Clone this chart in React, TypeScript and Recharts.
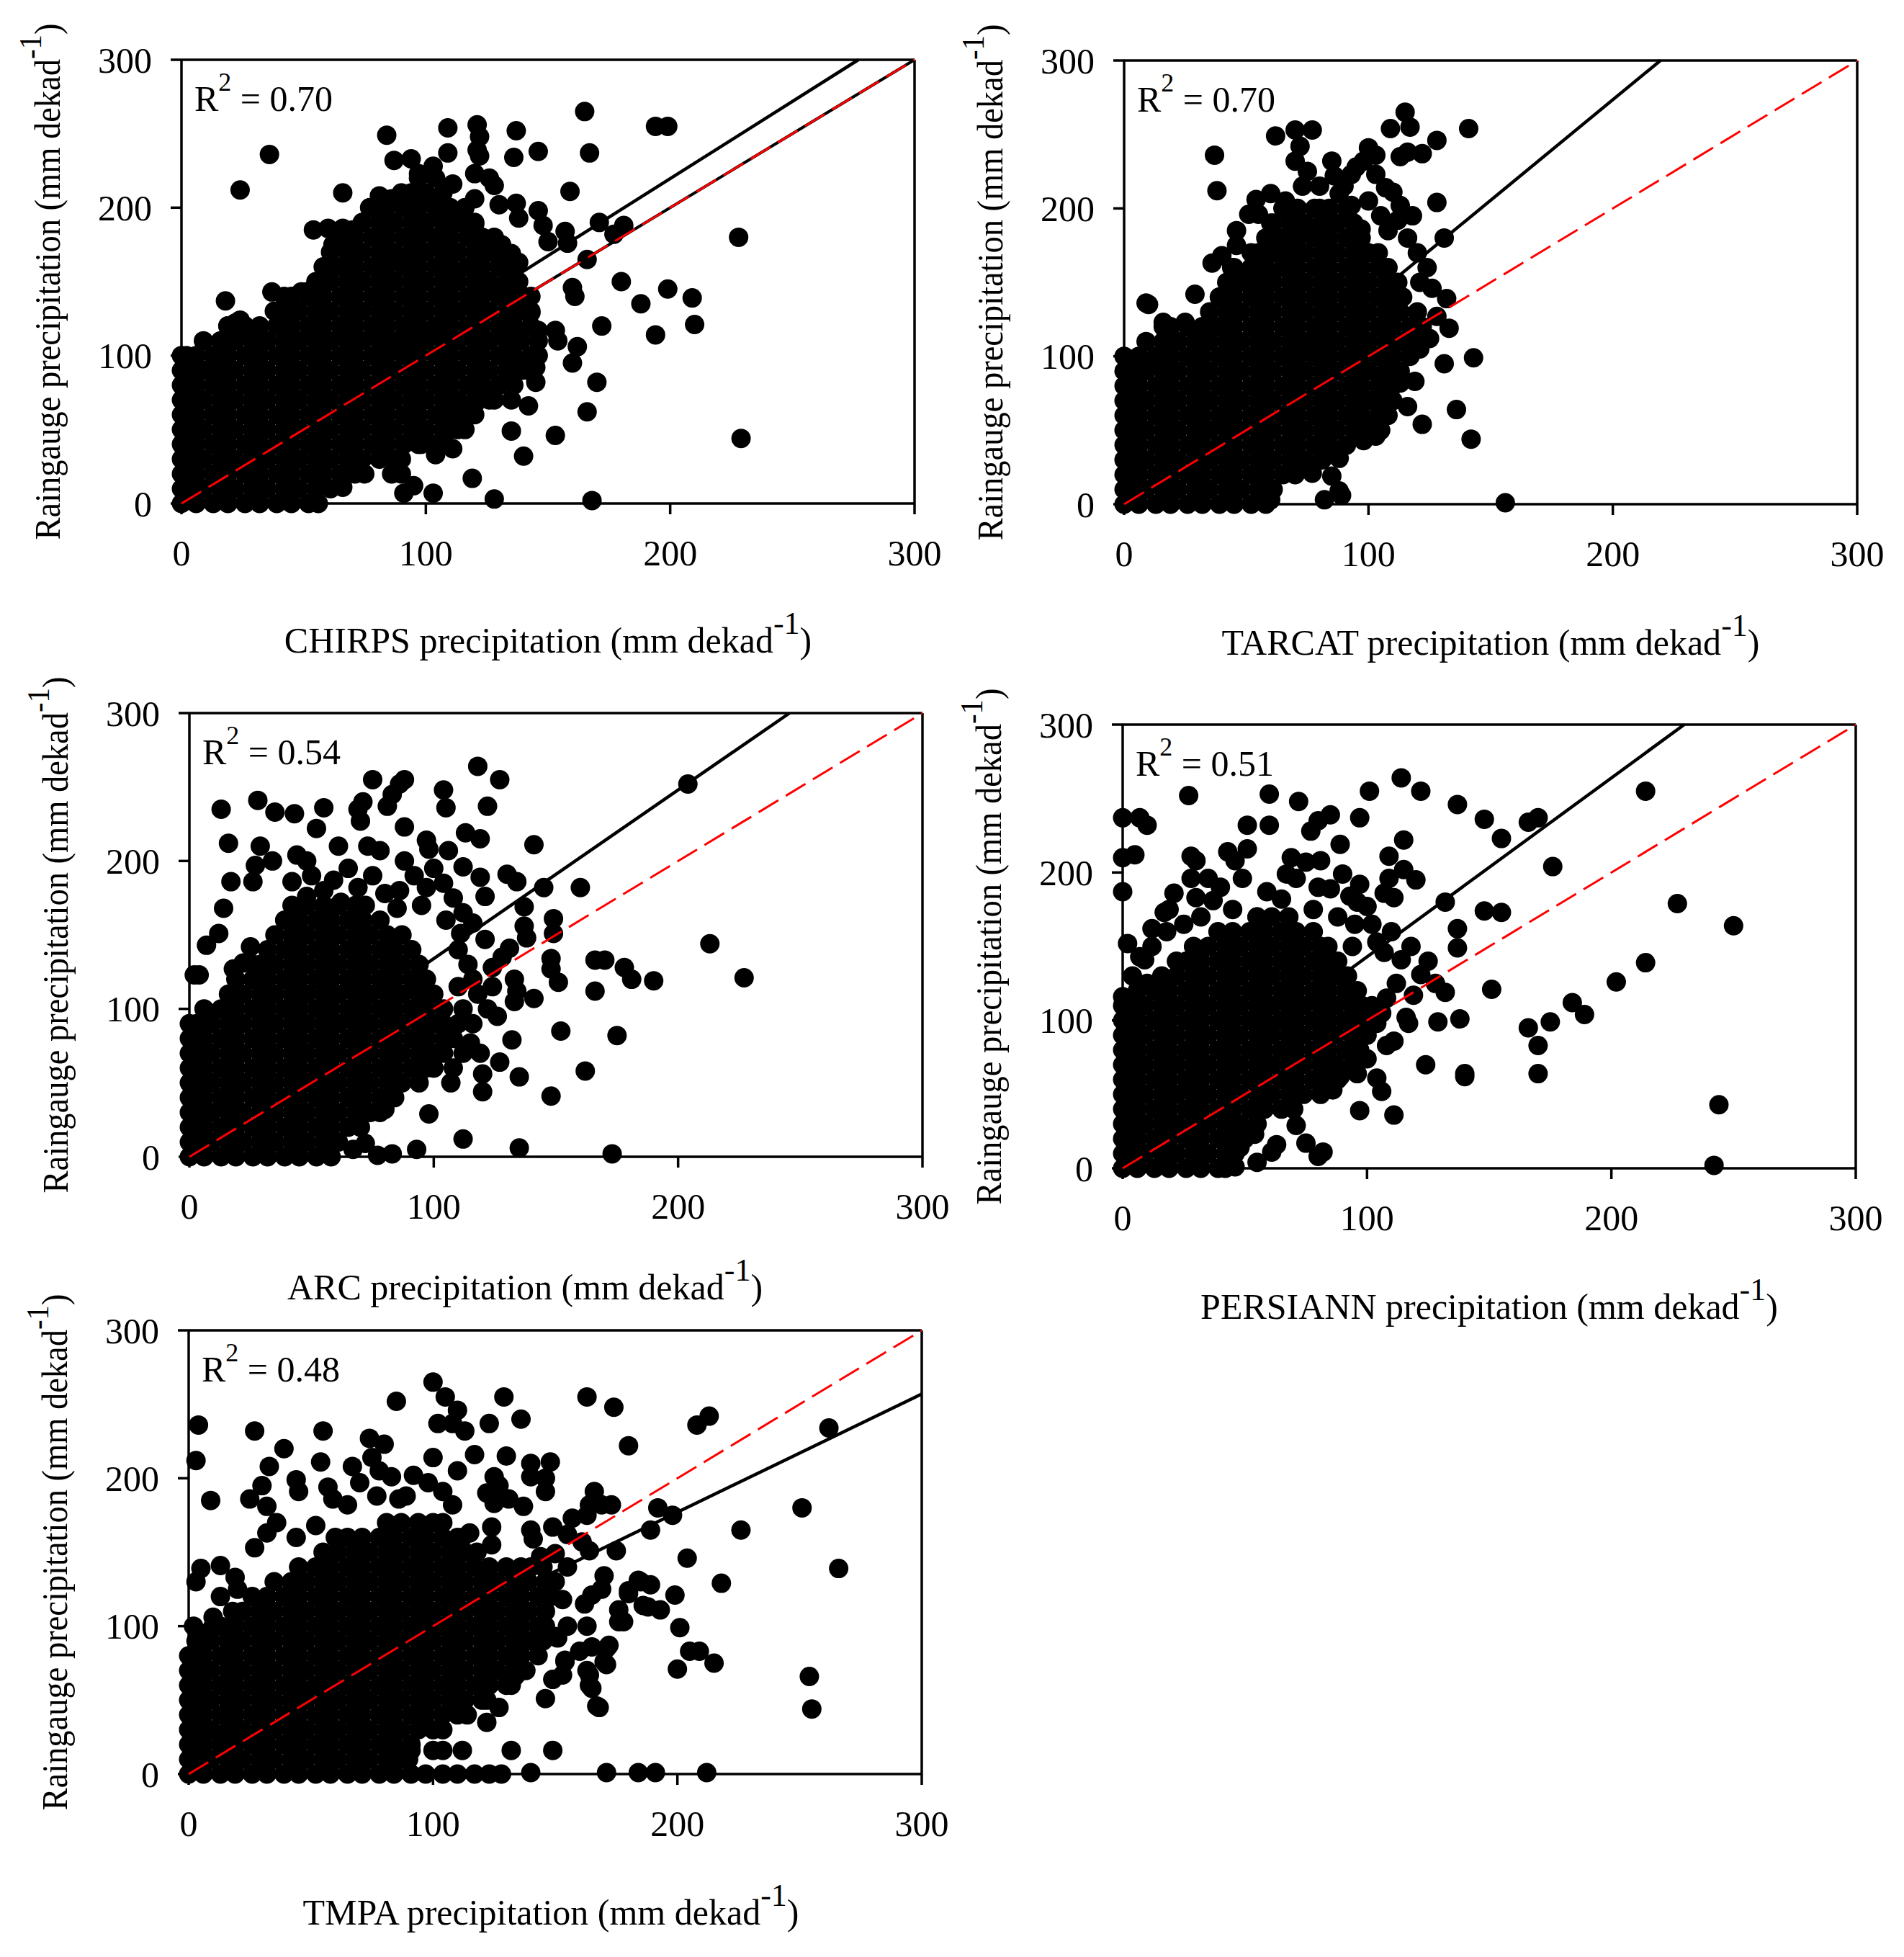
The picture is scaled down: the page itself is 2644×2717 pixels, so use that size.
import { ScatterChart, Scatter, XAxis, YAxis, ReferenceLine } from 'recharts';

type Pt = [number, number];
type Row = [number, number[]];

const SERIF = '"Liberation Serif", "Times New Roman", Times, serif';
const PLOT_W = 1018;
const PLOT_H = 616;
const Y_AXIS_W = 260;
const TOP_PAD = 100;
const RIGHT_PAD = 60;
const X_AXIS_H = 260;
const DOT_R = 13.5;
const Y_TITLE_LEN = 717;

const AXIS_TICKS = [0, 100, 200, 300];
const ONE_TO_ONE: Pt[] = [[0, 0], [300, 300]];

// dense cores are written row by row: [raingauge value, satellite values]
const chirpsCore: Row[] = [
  [0, [0, 6, 13, 19, 26, 32, 39, 45, 52, 56]],
  [10, [0, 3, 9, 16, 22, 29, 35, 42, 48, 55, 61]],
  [20, [0, 6, 13, 19, 26, 32, 39, 45, 52, 58, 65, 71, 75]],
  [30, [0, 3, 9, 16, 22, 29, 35, 42, 48, 55, 61, 68, 74, 81, 87, 90]],
  [40, [0, 6, 13, 19, 26, 32, 39, 45, 52, 58, 65, 71, 78, 84, 91, 97, 104, 108]],
  [50, [0, 3, 9, 16, 22, 29, 35, 42, 48, 55, 61, 68, 74, 81, 87, 94, 100, 107, 113, 116]],
  [60, [0, 6, 13, 19, 26, 32, 39, 45, 52, 58, 65, 71, 78, 84, 91, 97, 104, 110, 117, 120]],
  [70, [0, 3, 9, 16, 22, 29, 35, 42, 48, 55, 61, 68, 74, 81, 87, 94, 100, 107, 113, 120, 126, 128]],
  [80, [0, 6, 13, 19, 26, 32, 39, 45, 52, 58, 65, 71, 78, 84, 91, 97, 104, 110, 117, 123, 130, 136]],
  [90, [0, 3, 9, 16, 22, 29, 35, 42, 48, 55, 61, 68, 74, 81, 87, 94, 100, 107, 113, 120, 126, 133, 139, 142]],
  [100, [2, 6, 13, 19, 26, 32, 39, 45, 52, 58, 65, 71, 78, 84, 91, 97, 104, 110, 117, 123, 130, 136, 143, 146]],
  [110, [9, 16, 22, 29, 35, 42, 48, 55, 61, 68, 74, 81, 87, 94, 100, 107, 113, 120, 126, 133, 139, 146]],
  [120, [19, 26, 32, 39, 45, 52, 58, 65, 71, 78, 84, 91, 97, 104, 110, 117, 123, 130, 136, 143]],
  [130, [38, 42, 48, 55, 61, 68, 74, 81, 87, 94, 100, 107, 113, 120, 126, 133, 139, 143]],
  [140, [45, 52, 58, 65, 71, 78, 84, 91, 97, 104, 110, 117, 123, 130, 136, 140]],
  [150, [55, 61, 68, 74, 81, 87, 94, 100, 107, 113, 120, 126, 133, 138]],
  [160, [58, 65, 71, 78, 84, 91, 97, 104, 110, 117, 123, 130, 136]],
  [170, [61, 68, 74, 81, 87, 94, 100, 107, 113, 120, 126, 132]],
  [180, [65, 71, 78, 84, 91, 97, 104, 110, 117, 123, 128]],
  [190, [74, 81, 87, 94, 100, 107, 113, 120]],
  [200, [78, 84, 91, 97, 104, 110, 116]],
  [210, [94, 100, 107]],
  [220, [97, 104]],
];
const chirpsSpread: Pt[] = [
  [165, 265], [194, 255], [199, 255], [109, 254], [121, 256], [122, 248], [137, 252], [84, 249], [36, 236],
  [109, 237], [121, 239], [122, 235], [136, 234], [146, 238], [167, 237], [87, 232], [94, 233], [103, 228],
  [97, 223], [24, 212], [66, 210], [111, 216], [120, 223], [126, 220], [128, 215], [90, 210], [159, 211],
  [120, 206], [130, 202], [137, 203], [138, 193], [146, 198], [148, 188], [150, 177], [157, 184], [158, 176],
  [171, 190], [181, 188], [177, 182], [228, 180], [166, 165], [160, 146], [161, 140], [180, 150], [188, 135],
  [199, 145], [209, 139], [194, 114], [210, 121], [172, 120], [153, 117], [154, 110], [162, 106], [160, 95],
  [145, 92], [145, 82], [170, 82], [166, 62], [142, 66], [135, 70], [135, 49], [153, 46], [140, 32], [229, 44],
  [119, 17], [103, 7], [91, 7], [128, 3], [168, 2], [104, 33], [111, 37], [86, 20], [90, 20], [62, 161],
  [62, 175], [71, 172], [77, 200], [81, 208], [86, 206], [98, 209], [101, 206], [106, 198], [98, 185],
  [91, 166], [106, 172], [116, 192], [120, 189], [123, 180], [126, 172], [131, 175], [135, 169], [138, 163],
  [111, 157], [81, 157], [51, 143], [42, 140], [19, 120], [18, 137], [37, 143], [49, 143], [56, 140],
  [54, 185], [60, 186], [66, 186], [70, 185], [0, 100], [3, 90], [14, 94], [15, 89], [24, 124], [20, 120],
  [22, 122], [143, 140], [143, 129], [146, 117], [137, 112], [141, 97], [120, 67], [126, 74], [130, 80],
  [115, 58], [108, 47], [98, 40], [95, 12], [66, 11],
];
const chirpsFit: Pt[] = [[0, 11], [277, 300]];

const tarcatCore: Row[] = [
  [0, [0, 6, 13, 19, 26, 32, 39, 45, 52, 58]],
  [10, [0, 3, 9, 16, 22, 29, 35, 42, 48, 55, 61]],
  [20, [0, 6, 13, 19, 26, 32, 39, 45, 52, 58, 65, 70]],
  [30, [0, 3, 9, 16, 22, 29, 35, 42, 48, 55, 61, 68, 74, 81]],
  [40, [0, 6, 13, 19, 26, 32, 39, 45, 52, 58, 65, 71, 78, 84, 91]],
  [50, [0, 3, 9, 16, 22, 29, 35, 42, 48, 55, 61, 68, 74, 81, 87, 94, 100, 105]],
  [60, [0, 6, 13, 19, 26, 32, 39, 45, 52, 58, 65, 71, 78, 84, 91, 97, 104, 108]],
  [70, [0, 3, 9, 16, 22, 29, 35, 42, 48, 55, 61, 68, 74, 81, 87, 94, 100, 107, 110]],
  [80, [0, 6, 13, 19, 26, 32, 39, 45, 52, 58, 65, 71, 78, 84, 91, 97, 104, 110]],
  [90, [0, 3, 9, 16, 22, 29, 35, 42, 48, 55, 61, 68, 74, 81, 87, 94, 100, 107, 113]],
  [100, [0, 6, 13, 19, 26, 32, 39, 45, 52, 58, 65, 71, 78, 84, 91, 97, 104, 110, 117]],
  [110, [9, 16, 22, 29, 35, 42, 48, 55, 61, 68, 74, 81, 87, 94, 100, 107, 113, 118]],
  [120, [16, 19, 26, 32, 39, 45, 52, 58, 65, 71, 78, 84, 91, 97, 104, 110, 117]],
  [130, [35, 42, 48, 55, 61, 68, 74, 81, 87, 94, 100, 107, 113]],
  [140, [39, 45, 52, 58, 65, 71, 78, 84, 91, 97, 104, 110, 114]],
  [150, [42, 48, 55, 61, 68, 74, 81, 87, 94, 100, 107, 112]],
  [160, [45, 52, 58, 65, 71, 78, 84, 91, 97, 104, 108]],
  [170, [52, 55, 61, 68, 74, 81, 87, 94, 100, 104]],
  [180, [58, 65, 71, 78, 84, 91, 97]],
  [190, [61, 68, 74, 81, 87, 94]],
  [200, [65, 71, 78, 84, 91]],
];
const tarcatSpread: Pt[] = [
  [70, 253], [77, 253], [62, 249], [115, 265], [117, 255], [109, 254], [141, 254], [128, 246], [37, 236],
  [72, 242], [70, 232], [85, 232], [100, 241], [103, 236], [113, 235], [122, 237], [116, 238], [98, 232],
  [38, 212], [95, 228], [93, 223], [103, 223], [90, 215], [73, 215], [54, 206], [55, 196], [110, 211],
  [128, 204], [113, 202], [118, 195], [93, 202], [46, 185], [131, 180], [116, 180], [36, 163], [40, 168],
  [29, 142], [10, 135], [16, 123], [25, 123], [126, 146], [132, 139], [128, 127], [133, 119], [125, 112],
  [121, 105], [143, 99], [131, 95], [113, 82], [119, 83], [116, 66], [136, 64], [122, 54], [142, 44],
  [103, 46], [98, 43], [88, 31], [85, 19], [88, 9], [82, 3], [89, 6], [77, 21], [70, 30], [60, 3], [156, 1],
  [103, 57], [104, 69], [106, 85], [11, 97], [9, 136], [35, 120], [39, 140], [46, 175], [51, 196], [60, 210],
  [66, 205], [80, 200], [84, 190], [88, 210], [100, 205], [105, 195], [108, 185], [60, 190], [64, 180],
  [44, 160], [120, 170], [124, 160], [121, 150], [120, 130], [122, 120], [75, 225], [80, 215], [86, 222],
  [92, 193], [97, 186], [107, 214], [112, 192], [68, 196], [72, 188], [78, 182], [62, 170], [58, 158], [50, 152],
];
const tarcatFit: Pt[] = [[0, 1.5], [219.5, 300]];

const arcCore: Row[] = [
  [0, [0, 6, 13, 19, 26, 32, 39, 45, 52, 58]],
  [10, [0, 3, 9, 16, 22, 29, 35, 42, 48, 55, 61]],
  [20, [0, 6, 13, 19, 26, 32, 39, 45, 52, 58, 65, 70]],
  [30, [0, 3, 9, 16, 22, 29, 35, 42, 48, 55, 61, 68, 74, 78]],
  [40, [0, 6, 13, 19, 26, 32, 39, 45, 52, 58, 65, 71, 78, 84]],
  [50, [0, 3, 9, 16, 22, 29, 35, 42, 48, 55, 61, 68, 74, 81, 87, 94]],
  [60, [0, 6, 13, 19, 26, 32, 39, 45, 52, 58, 65, 71, 78, 84, 91, 97, 100]],
  [70, [0, 3, 9, 16, 22, 29, 35, 42, 48, 55, 61, 68, 74, 81, 87, 94, 100]],
  [80, [0, 6, 13, 19, 26, 32, 39, 45, 52, 58, 65, 71, 78, 84, 91, 97, 104]],
  [90, [0, 3, 9, 16, 22, 29, 35, 42, 48, 55, 61, 68, 74, 81, 87, 94, 100, 104]],
  [100, [6, 13, 19, 26, 32, 39, 45, 52, 58, 65, 71, 78, 84, 91, 97, 104]],
  [110, [16, 22, 29, 35, 42, 48, 55, 61, 68, 74, 81, 87, 94, 100]],
  [120, [19, 26, 32, 39, 45, 52, 58, 65, 71, 78, 84, 91, 97]],
  [130, [26, 29, 35, 42, 48, 55, 61, 68, 74, 81, 87, 94]],
  [140, [32, 39, 45, 52, 58, 65, 71, 78, 84, 91]],
  [150, [35, 42, 48, 55, 61, 68, 74, 81, 87]],
  [160, [39, 45, 52, 58, 65, 71, 78]],
  [170, [42, 48, 55, 61, 68, 72]],
];
const arcSpread: Pt[] = [
  [118, 264], [127, 255], [75, 255], [88, 255], [86, 252], [28, 241], [13, 235], [35, 233], [43, 232],
  [55, 236], [69, 235], [71, 240], [81, 237], [83, 245], [104, 248], [105, 236], [122, 237], [204, 252],
  [52, 222], [88, 223], [113, 219], [119, 215], [70, 227], [16, 212], [29, 210], [61, 210], [73, 210],
  [78, 207], [97, 214], [98, 208], [141, 211], [106, 207], [27, 197], [34, 200], [44, 204], [48, 200],
  [88, 200], [112, 196], [17, 186], [26, 186], [42, 186], [59, 187], [69, 182], [86, 180], [97, 182],
  [119, 189], [130, 191], [134, 186], [145, 182], [160, 182], [121, 176], [137, 169], [14, 168], [12, 151],
  [7, 143], [149, 161], [149, 151], [137, 156], [138, 148], [111, 151], [121, 147], [131, 141], [148, 134],
  [148, 127], [166, 133], [170, 133], [178, 128], [181, 120], [190, 119], [213, 144], [227, 121], [151, 118],
  [133, 120], [134, 112], [141, 107], [166, 112], [133, 105], [126, 95], [132, 79], [152, 85], [175, 82],
  [115, 77], [119, 70], [127, 64], [162, 58], [120, 56], [120, 44], [135, 54], [148, 41], [107, 50], [98, 29],
  [112, 12], [135, 6], [173, 2], [93, 5], [83, 2], [77, 1], [67, 5], [72, 9], [80, 32], [2, 123], [4, 123],
  [7, 98], [18, 127], [22, 131], [25, 142], [50, 190], [55, 180], [65, 195], [75, 190], [80, 178], [92, 190],
  [100, 195], [104, 185], [108, 175], [112, 165], [116, 158], [105, 160], [95, 170], [85, 168], [62, 172],
  [48, 176], [110, 140], [114, 130], [116, 120], [118, 110], [112, 100], [110, 90], [108, 80], [104, 70],
  [100, 60], [110, 115], [124, 128], [128, 135], [124, 115], [122, 100], [116, 90], [112, 70], [108, 60],
];
const arcFit: Pt[] = [[0, 20], [245.6, 300]];

const persiannCore: Row[] = [
  [0, [0, 6, 13, 19, 26, 32, 39, 42]],
  [10, [0, 3, 9, 16, 22, 29, 35, 42, 46]],
  [20, [0, 6, 13, 19, 26, 32, 39, 45, 50]],
  [30, [0, 3, 9, 16, 22, 29, 35, 42, 48, 55]],
  [40, [0, 6, 13, 19, 26, 32, 39, 45, 52, 58, 65, 70]],
  [50, [0, 3, 9, 16, 22, 29, 35, 42, 48, 55, 61, 68, 74, 81]],
  [60, [0, 6, 13, 19, 26, 32, 39, 45, 52, 58, 65, 71, 78, 84, 88]],
  [70, [0, 3, 9, 16, 22, 29, 35, 42, 48, 55, 61, 68, 74, 81, 87, 94]],
  [80, [0, 6, 13, 19, 26, 32, 39, 45, 52, 58, 65, 71, 78, 84, 91, 97]],
  [90, [0, 3, 9, 16, 22, 29, 35, 42, 48, 55, 61, 68, 74, 81, 87, 94, 100]],
  [100, [0, 6, 13, 19, 26, 32, 39, 45, 52, 58, 65, 71, 78, 84, 91, 97, 100]],
  [110, [0, 3, 9, 16, 22, 29, 35, 42, 48, 55, 61, 68, 74, 81, 87, 94, 98]],
  [120, [6, 13, 19, 26, 32, 39, 45, 52, 58, 65, 71, 78, 84, 91, 96]],
  [130, [16, 22, 29, 35, 42, 48, 55, 61, 68, 74, 81, 87, 92]],
  [140, [22, 26, 32, 39, 45, 52, 58, 65, 71, 78, 84, 88]],
  [150, [29, 35, 42, 48, 55, 61, 68, 74, 81, 84]],
  [160, [39, 45, 52, 58, 65, 71, 78]],
  [170, [55, 61, 68]],
];
const persiannSpread: Pt[] = [
  [114, 264], [101, 255], [122, 255], [27, 252], [60, 253], [72, 248], [137, 246], [214, 255], [0, 237],
  [7, 237], [10, 232], [51, 232], [60, 232], [80, 235], [85, 239], [97, 237], [148, 236], [166, 234],
  [170, 237], [155, 223], [77, 228], [115, 222], [89, 219], [43, 214], [46, 208], [51, 216], [28, 211],
  [30, 208], [5, 212], [0, 210], [109, 211], [69, 210], [176, 204], [90, 199], [28, 196], [35, 196],
  [49, 196], [67, 199], [71, 196], [75, 207], [81, 208], [109, 196], [115, 202], [120, 195], [97, 192],
  [0, 187], [21, 186], [37, 181], [59, 187], [85, 189], [93, 184], [107, 186], [111, 183], [132, 180],
  [148, 174], [155, 173], [227, 179], [250, 164], [17, 173], [19, 175], [12, 162], [2, 152], [100, 177],
  [137, 162], [137, 149], [104, 153], [94, 150], [107, 146], [114, 141], [122, 131], [7, 143], [9, 141],
  [214, 139], [202, 126], [151, 121], [132, 119], [119, 117], [184, 112], [189, 104], [175, 99], [166, 95],
  [170, 83], [170, 64], [129, 99], [138, 101], [116, 102], [117, 98], [104, 98], [124, 70], [140, 64],
  [140, 62], [108, 83], [111, 86], [100, 74], [104, 61], [106, 52], [96, 64], [97, 39], [111, 36], [244, 43],
  [242, 2], [86, 53], [89, 62], [71, 29], [75, 17], [80, 8], [82, 11], [63, 16], [61, 11], [55, 4], [46, 1],
  [54, 23], [48, 14], [0, 116], [25, 165], [32, 170], [45, 175], [55, 170], [65, 182], [78, 175], [88, 170],
  [95, 165], [102, 165], [110, 160], [118, 150], [125, 140], [128, 125], [112, 125], [108, 115], [106, 105],
  [102, 110], [96, 180], [80, 190], [40, 190], [30, 183], [18, 160], [12, 150], [4, 130], [10, 125],
];
const persiannFit: Pt[] = [[0, 22], [229.8, 300]];

const tmpaCore: Row[] = [
  [0, [0, 6, 13, 19, 26, 32, 39, 45, 52, 58, 65, 71, 78, 84, 91, 97, 104, 110, 117, 123, 128]],
  [10, [0, 3, 9, 16, 22, 29, 35, 42, 48, 55, 61, 68, 74, 81, 87, 90]],
  [20, [0, 6, 13, 19, 26, 32, 39, 45, 52, 58, 65, 71, 78, 84, 91]],
  [30, [0, 3, 9, 16, 22, 29, 35, 42, 48, 55, 61, 68, 74, 81, 87, 94, 100, 104]],
  [40, [0, 6, 13, 19, 26, 32, 39, 45, 52, 58, 65, 71, 78, 84, 91, 97, 104, 110]],
  [50, [0, 3, 9, 16, 22, 29, 35, 42, 48, 55, 61, 68, 74, 81, 87, 94, 100, 107, 113, 120, 122]],
  [60, [0, 6, 13, 19, 26, 32, 39, 45, 52, 58, 65, 71, 78, 84, 91, 97, 104, 110, 117, 123, 130, 132]],
  [70, [0, 3, 9, 16, 22, 29, 35, 42, 48, 55, 61, 68, 74, 81, 87, 94, 100, 107, 113, 120, 126, 133, 138]],
  [80, [0, 6, 13, 19, 26, 32, 39, 45, 52, 58, 65, 71, 78, 84, 91, 97, 104, 110, 117, 123, 130, 136, 143]],
  [90, [3, 9, 16, 22, 29, 35, 42, 48, 55, 61, 68, 74, 81, 87, 94, 100, 107, 113, 120, 126, 133, 139, 145]],
  [100, [10, 13, 19, 26, 32, 39, 45, 52, 58, 65, 71, 78, 84, 91, 97, 104, 110, 117, 123, 130, 136, 143, 146]],
  [110, [18, 22, 29, 35, 42, 48, 55, 61, 68, 74, 81, 87, 94, 100, 107, 113, 120, 126, 133, 139, 146]],
  [120, [26, 32, 39, 45, 52, 58, 65, 71, 78, 84, 91, 97, 104, 110, 117, 123, 130, 136, 143, 148]],
  [130, [35, 42, 48, 55, 61, 68, 74, 81, 87, 94, 100, 107, 113, 120, 126, 133, 139, 146, 150]],
  [140, [45, 52, 58, 65, 71, 78, 84, 91, 97, 104, 110, 117, 123, 130, 136, 140]],
  [150, [55, 61, 68, 74, 81, 87, 94, 100, 107, 113, 118]],
  [160, [65, 71, 78, 84, 91, 97, 104, 110, 112]],
  [170, [81, 87, 94, 100, 104]],
];
const tmpaSpread: Pt[] = [
  [100, 265], [105, 255], [85, 252], [129, 255], [163, 255], [174, 248], [110, 246], [4, 236], [27, 232],
  [55, 232], [102, 237], [108, 237], [113, 232], [123, 237], [136, 240], [208, 236], [213, 242], [262, 234],
  [74, 227], [80, 223], [39, 220], [180, 222], [3, 212], [33, 208], [54, 211], [67, 208], [75, 214],
  [100, 214], [117, 216], [130, 215], [140, 210], [148, 211], [110, 205], [78, 205], [83, 201], [92, 202],
  [44, 199], [45, 191], [30, 195], [125, 201], [127, 195], [140, 201], [146, 200], [146, 191], [57, 194],
  [59, 186], [70, 197], [98, 197], [104, 191], [108, 182], [77, 188], [89, 188], [9, 185], [25, 186],
  [166, 191], [169, 182], [122, 190], [125, 183], [173, 182], [192, 180], [198, 175], [251, 180], [131, 186],
  [137, 181], [65, 182], [32, 181], [86, 186], [163, 175], [164, 182], [149, 167], [157, 173], [140, 165],
  [141, 159], [189, 165], [226, 165], [27, 153], [32, 163], [124, 167], [124, 155], [115, 163], [155, 162],
  [150, 149], [144, 147], [145, 140], [161, 157], [164, 151], [175, 151], [204, 146], [266, 139], [13, 141],
  [19, 133], [3, 130], [5, 139], [155, 140], [170, 134], [184, 131], [189, 128], [218, 129], [180, 124],
  [165, 121], [169, 125], [199, 121], [186, 114], [193, 111], [176, 111], [178, 103], [153, 118], [163, 100],
  [155, 100], [150, 93], [201, 99], [160, 83], [165, 86], [172, 87], [170, 76], [200, 71], [205, 83],
  [209, 83], [215, 75], [154, 77], [153, 67], [163, 70], [164, 60], [134, 67], [254, 66], [255, 44],
  [146, 51], [167, 46], [127, 45], [122, 35], [114, 40], [91, 16], [100, 16], [104, 16], [112, 16],
  [132, 16], [149, 16], [140, 1], [171, 1], [184, 1], [191, 1], [212, 1], [151, 92], [154, 76], [149, 64],
  [164, 67], [165, 58], [168, 45], [171, 85], [171, 74], [176, 103], [180, 122], [185, 130], [188, 113],
  [162, 115], [133, 65], [36, 170], [44, 160], [52, 168], [60, 160], [10, 106], [13, 120], [20, 125],
  [8, 96], [2, 100],
];
const tmpaFit: Pt[] = [[0, 17], [300, 257]];

type PanelDef = {
  name: string;
  r2: string;
  core: Row[];
  spread: Pt[];
  fit: Pt[];
  extra?: Pt[];
  left: number;
  top: number;
  titleDy: number;
  titleShift: number;
};

const PANELS: PanelDef[] = [
  { name: 'CHIRPS', r2: '0.70', core: chirpsCore, spread: chirpsSpread, fit: chirpsFit, extra: ONE_TO_ONE, left: 252, top: 83, titleDy: 207, titleShift: 0 },
  { name: 'TARCAT', r2: '0.70', core: tarcatCore, spread: tarcatSpread, fit: tarcatFit, left: 1561, top: 84, titleDy: 209, titleShift: 0 },
  { name: 'ARC', r2: '0.54', core: arcCore, spread: arcSpread, fit: arcFit, left: 263, top: 990, titleDy: 198, titleShift: -43 },
  { name: 'PERSIANN', r2: '0.51', core: persiannCore, spread: persiannSpread, fit: persiannFit, left: 1559, top: 1006, titleDy: 209, titleShift: 0 },
  { name: 'TMPA', r2: '0.48', core: tmpaCore, spread: tmpaSpread, fit: tmpaFit, left: 262, top: 1847, titleDy: 209, titleShift: -6 },
];

const xy = (pts: Pt[]) => pts.map(([x, y]) => ({ x, y }));

const Dot = (props: any) => <circle cx={props.cx} cy={props.cy} r={DOT_R} fill="#000" />;
const NoDot = () => <g />;

function XTitle({ viewBox, name, dy, shift }: any) {
  return (
    <text x={viewBox.x + viewBox.width / 2 + shift} y={viewBox.y + dy} textAnchor="middle" fontFamily={SERIF} fontSize={50} fill="#000">
      {name} precipitation (mm dekad<tspan dy={-26} fontSize={44}>-1</tspan>
      <tspan dy={26}>)</tspan>
    </text>
  );
}

function YTitle({ viewBox }: any) {
  const bx = viewBox.x + viewBox.width - 169;
  const cy = viewBox.y + viewBox.height / 2;
  return (
    <text
      x={bx}
      y={cy}
      transform={`rotate(-90 ${bx} ${cy})`}
      textAnchor="middle"
      textLength={Y_TITLE_LEN}
      lengthAdjust="spacingAndGlyphs"
      fontFamily={SERIF}
      fontSize={50}
      fill="#000"
    >
      Raingauge precipitation (mm dekad<tspan dy={-26} fontSize={44}>-1</tspan>
      <tspan dy={26}>)</tspan>
    </text>
  );
}

function R2Label({ viewBox, r2 }: any) {
  return (
    <text x={viewBox.x + 18} y={viewBox.y + 71} fontFamily={SERIF} fontSize={50} fill="#000">
      R<tspan dy={-28} fontSize={36}>2</tspan>
      <tspan dy={28}> = {r2}</tspan>
    </text>
  );
}

const axisStroke = { stroke: '#000', strokeWidth: 3.5 };
const tickStyle = { fill: '#000', fontSize: 50, fontFamily: SERIF };

function Panel({ p }: { p: PanelDef }) {
  const dots = [
    ...p.core.flatMap(([y, xs]) => xs.map((x) => ({ x, y }))),
    ...xy(p.spread),
  ];
  return (
    <div style={{ position: 'absolute', left: p.left - Y_AXIS_W, top: p.top - TOP_PAD }}>
      <ScatterChart
        width={Y_AXIS_W + PLOT_W + RIGHT_PAD}
        height={TOP_PAD + PLOT_H + X_AXIS_H}
        margin={{ top: TOP_PAD, right: RIGHT_PAD, bottom: 0, left: 0 }}
      >
        <XAxis
          type="number"
          dataKey="x"
          domain={[0, 300]}
          ticks={AXIS_TICKS}
          interval={0}
          height={X_AXIS_H}
          tickSize={15}
          tickMargin={35}
          axisLine={axisStroke}
          tickLine={axisStroke}
          tick={tickStyle}
          label={<XTitle name={p.name} dy={p.titleDy} shift={p.titleShift} />}
        />
        <YAxis
          type="number"
          dataKey="y"
          domain={[0, 300]}
          ticks={AXIS_TICKS}
          interval={0}
          width={Y_AXIS_W}
          tickSize={15}
          tickMargin={26}
          axisLine={axisStroke}
          tickLine={axisStroke}
          tick={tickStyle}
          label={<YTitle />}
        />
        <ReferenceLine x={300} stroke="#000" strokeWidth={3.5} />
        <ReferenceLine y={300} stroke="#000" strokeWidth={3.5} label={<R2Label r2={p.r2} />} />
        <Scatter data={dots} fill="#000" shape={Dot} isAnimationActive={false} />
        {p.extra && (
          <Scatter data={xy(p.extra)} line={{ stroke: '#000', strokeWidth: 4 }} shape={NoDot} isAnimationActive={false} />
        )}
        <Scatter data={xy(p.fit)} line={{ stroke: '#000', strokeWidth: 4.5 }} shape={NoDot} isAnimationActive={false} />
        <Scatter
          data={xy(ONE_TO_ONE)}
          line={{ stroke: '#ff0000', strokeWidth: 3, strokeDasharray: '32 12' }}
          shape={NoDot}
          isAnimationActive={false}
        />
      </ScatterChart>
    </div>
  );
}

export default function App() {
  return (
    <div style={{ position: 'absolute', left: 0, top: 0, width: 2644, height: 2717, background: '#fff' }}>
      {PANELS.map((p) => (
        <Panel key={p.name} p={p} />
      ))}
    </div>
  );
}
